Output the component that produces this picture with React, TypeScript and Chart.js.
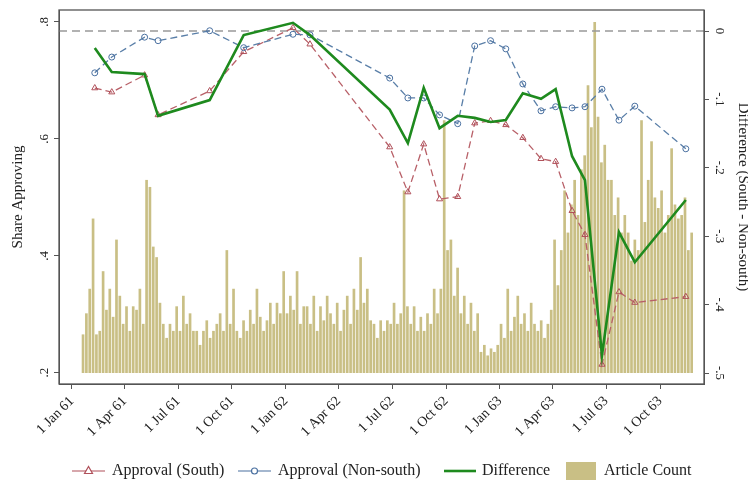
import React, { useEffect, useRef } from "react";
import { Chart, registerables } from "chart.js";
Chart.register(...registerables);

// days since 1 Jan 1961
const surveyDays = [39, 68, 124, 147, 235, 293, 377, 406, 542, 573, 600, 627, 658, 687, 714, 740, 769, 800, 825, 853, 875, 904, 933, 960, 1047];
const approvalSouth = [0.687, 0.680, 0.709, 0.641, 0.682, 0.749, 0.790, 0.762, 0.586, 0.509, 0.591, 0.497, 0.501, 0.627, 0.631, 0.624, 0.602, 0.566, 0.561, 0.477, 0.436, 0.214, 0.338, 0.320, 0.330];
const approvalNonSouth = [0.713, 0.740, 0.774, 0.768, 0.785, 0.756, 0.779, 0.778, 0.704, 0.670, 0.670, 0.641, 0.626, 0.759, 0.768, 0.754, 0.694, 0.648, 0.655, 0.653, 0.655, 0.685, 0.632, 0.656, 0.583];
const difference = [-0.025, -0.060, -0.063, -0.124, -0.101, -0.006, 0.012, -0.006, -0.115, -0.164, -0.083, -0.142, -0.124, -0.127, -0.133, -0.130, -0.091, -0.099, -0.085, -0.183, -0.218, -0.474, -0.294, -0.338, -0.247];

const articleStartDay = 19;
const articleEndDay = 1057;
const articleCount = [
  11, 17, 24, 44, 11, 12, 29, 18, 24, 16, 38, 22, 14, 19, 12, 19, 18, 24, 14, 55, 53, 36, 33, 20,
  14, 10, 14, 12, 19, 12, 22, 14, 17, 12, 12, 8, 12, 15, 10, 12, 14, 17, 12, 35, 14, 24, 12, 10,
  15, 12, 18, 14, 24, 16, 12, 15, 20, 14, 20, 17, 29, 17, 22, 18, 29, 14, 19, 19, 14, 22, 12, 19,
  15, 22, 17, 14, 20, 12, 18, 22, 14, 24, 18, 33, 20, 24, 15, 14, 10, 15, 12, 15, 14, 20, 14, 17,
  52, 19, 14, 19, 12, 16, 12, 17, 14, 24, 17, 24, 72, 35, 38, 22, 30, 17, 22, 14, 20, 12, 17, 6,
  8, 5, 7, 6, 8, 14, 10, 24, 12, 16, 22, 14, 17, 12, 20, 14, 12, 15, 10, 14, 18, 38, 25, 35,
  52, 40, 48, 55, 45, 58, 62, 82, 70, 100, 73, 60, 65, 55, 55, 45, 50, 40, 45, 40, 32, 38, 35, 72,
  43, 55, 66, 50, 47, 52, 40, 45, 64, 48, 44, 45, 50, 35, 40,
];

const tickDays = [0, 90, 181, 273, 365, 455, 546, 638, 730, 820, 911, 1003];
const tickLabels = ["1 Jan 61", "1 Apr 61", "1 Jul 61", "1 Oct 61", "1 Jan 62", "1 Apr 62", "1 Jul 62", "1 Oct 62", "1 Jan 63", "1 Apr 63", "1 Jul 63", "1 Oct 63"];
const leftTicks = [0.2, 0.4, 0.6, 0.8];
const rightTicks = [0, -0.1, -0.2, -0.3, -0.4, -0.5];

const FONT = "'Liberation Serif', 'DejaVu Serif', serif";
const SOUTH = "#b0505a";
const NONSOUTH = "#4a70a0";
const DIFF = "#1e8a1e";
const BAR = "#c9bf85";
const fmt = (v: number) => {
  const s = Math.abs(v).toFixed(1).replace(/^0/, "");
  return v === 0 ? "0" : (v < 0 ? "-" : "") + s;
};

export default function App() {
  const ref = useRef<HTMLCanvasElement>(null);
  useEffect(() => {
    const step = (articleEndDay - articleStartDay) / (articleCount.length - 1);
    const bars = articleCount.map((c, i) => ({ x: articleStartDay + i * step, y: c }));
    const pts = (arr: number[]) => arr.map((v, i) => ({ x: surveyDays[i], y: v }));

    const framePlugin = {
      id: "frame",
      afterDraw(chart: any) {
        const { ctx, chartArea: a, scales } = chart;
        ctx.save();
        ctx.strokeStyle = "#555";
        ctx.lineWidth = 1.3;
        ctx.strokeRect(a.left, a.top, a.right - a.left, a.bottom - a.top);
        ctx.fillStyle = "#222";
        ctx.font = `13px ${FONT}`;
        ctx.textAlign = "center";
        ctx.textBaseline = "middle";
        leftTicks.forEach((v) => {
          const y = scales.y.getPixelForValue(v);
          ctx.save();
          ctx.translate(a.left - 14, y);
          ctx.rotate(-Math.PI / 2);
          ctx.fillText(fmt(v), 0, 0);
          ctx.restore();
        });
        rightTicks.forEach((v) => {
          const y = scales.y2.getPixelForValue(v);
          ctx.save();
          ctx.translate(a.right + 15, y);
          ctx.rotate(Math.PI / 2);
          ctx.fillText(fmt(v), 0, 0);
          ctx.restore();
        });
        ctx.font = `15px ${FONT}`;
        ctx.save();
        ctx.translate(18, (a.top + a.bottom) / 2);
        ctx.rotate(-Math.PI / 2);
        ctx.fillText("Share Approving", 0, 0);
        ctx.restore();
        ctx.save();
        ctx.translate(743, (a.top + a.bottom) / 2);
        ctx.rotate(Math.PI / 2);
        ctx.fillText("Difference (South - Non-south)", 0, 0);
        ctx.restore();

        // legend
        const ly = 471;
        ctx.font = `16px ${FONT}`;
        ctx.textAlign = "left";
        ctx.fillStyle = "#222";
        ctx.lineWidth = 1.2;
        // south
        ctx.strokeStyle = SOUTH;
        ctx.beginPath(); ctx.moveTo(72, ly); ctx.lineTo(105, ly); ctx.stroke();
        ctx.fillStyle = "#fff";
        ctx.beginPath(); ctx.moveTo(88.5, ly - 4.5); ctx.lineTo(84.5, ly + 2.5); ctx.lineTo(92.5, ly + 2.5); ctx.closePath(); ctx.fill(); ctx.stroke();
        ctx.fillStyle = "#222";
        ctx.fillText("Approval (South)", 112, ly);
        // non-south
        ctx.strokeStyle = NONSOUTH;
        ctx.beginPath(); ctx.moveTo(238, ly); ctx.lineTo(271, ly); ctx.stroke();
        ctx.fillStyle = "#fff";
        ctx.beginPath(); ctx.arc(254.5, ly, 3, 0, Math.PI * 2); ctx.fill(); ctx.stroke();
        ctx.fillStyle = "#222";
        ctx.fillText("Approval (Non-south)", 278, ly);
        // difference
        ctx.strokeStyle = DIFF;
        ctx.lineWidth = 2.6;
        ctx.beginPath(); ctx.moveTo(444, ly); ctx.lineTo(476, ly); ctx.stroke();
        ctx.fillText("Difference", 482, ly);
        // bars
        ctx.fillStyle = BAR;
        ctx.fillRect(566, ly - 9, 30, 18);
        ctx.fillStyle = "#222";
        ctx.fillText("Article Count", 604, ly);
        ctx.restore();
      },
    };

    const chart = new Chart(ref.current!, {
      data: {
        datasets: [
          {
            type: "line",
            label: "ref",
            data: [{ x: -22, y: 0 }, { x: 1078, y: 0 }],
            yAxisID: "y2",
            borderColor: "#999",
            borderWidth: 1.5,
            borderDash: [8, 5],
            pointRadius: 0,
            order: 5,
          },
          {
            type: "line",
            label: "Approval (South)",
            data: pts(approvalSouth),
            yAxisID: "y",
            borderColor: "#b86068",
            borderWidth: 1.3,
            borderDash: [7, 4],
            pointStyle: "triangle",
            pointRadius: 3.5,
            pointBorderColor: SOUTH,
            pointBackgroundColor: "rgba(255,255,255,0)",
            pointBorderWidth: 1,
            order: 3,
          },
          {
            type: "line",
            label: "Approval (Non-south)",
            data: pts(approvalNonSouth),
            yAxisID: "y",
            borderColor: "#5a7fa8",
            borderWidth: 1.3,
            borderDash: [7, 4],
            pointStyle: "circle",
            pointRadius: 3,
            pointBorderColor: NONSOUTH,
            pointBackgroundColor: "rgba(255,255,255,0)",
            pointBorderWidth: 1,
            order: 2,
          },
          {
            type: "line",
            label: "Difference",
            data: pts(difference),
            yAxisID: "y2",
            borderColor: DIFF,
            borderWidth: 2.6,
            pointRadius: 0,
            order: 1,
          },
          {
            type: "bar",
            label: "Article Count",
            data: bars,
            yAxisID: "yBar",
            backgroundColor: BAR,
            barPercentage: 0.8,
            categoryPercentage: 1,
            order: 10,
          },
        ],
      } as any,
      options: {
        animation: false,
        responsive: false,
        layout: { padding: { top: 10, left: 0, right: 0, bottom: 0 } },
        plugins: {
          tooltip: { enabled: false },
          legend: { display: false },
        },
        scales: {
          x: {
            type: "linear",
            min: -22,
            max: 1078,
            offset: false,
            grid: { drawOnChartArea: false, tickLength: 5, color: "#555", offset: false },
            border: { color: "#555" },
            afterBuildTicks: (s: any) => { s.ticks = tickDays.map((v) => ({ value: v })); },
            afterFit: (s: any) => { s.height = 99; },
            ticks: {
              autoSkip: false,
              minRotation: 45,
              maxRotation: 45,
              color: "#222",
              padding: 4,
              font: { family: FONT, size: 14 },
              callback: (v: any) => tickLabels[tickDays.indexOf(v)] ?? "",
            },
          },
          y: {
            type: "linear",
            position: "left",
            min: 0.1806,
            max: 0.8205,
            grid: { drawOnChartArea: false, tickLength: 5, color: "#555" },
            border: { color: "#555" },
            afterBuildTicks: (s: any) => { s.ticks = leftTicks.map((v) => ({ value: v })); },
            afterFit: (s: any) => { s.width = 59; },
            ticks: { display: false },
          },
          y2: {
            type: "linear",
            position: "right",
            min: -0.516,
            max: 0.0307,
            grid: { drawOnChartArea: false, tickLength: 5, color: "#555" },
            border: { color: "#555" },
            afterBuildTicks: (s: any) => { s.ticks = rightTicks.map((v) => ({ value: v })); },
            afterFit: (s: any) => { s.width = 44; },
            ticks: { display: false },
          },
          yBar: {
            type: "linear",
            display: false,
            min: -3.13,
            max: 103.4,
          },
        },
      } as any,
      plugins: [framePlugin],
    });
    return () => chart.destroy();
  }, []);
  return (
    <div style={{ position: "absolute", left: 0, top: 0, width: 748, height: 483, background: "#fff" }}>
      <canvas ref={ref} width={748} height={483} style={{ width: 748, height: 483 }} />
    </div>
  );
}
